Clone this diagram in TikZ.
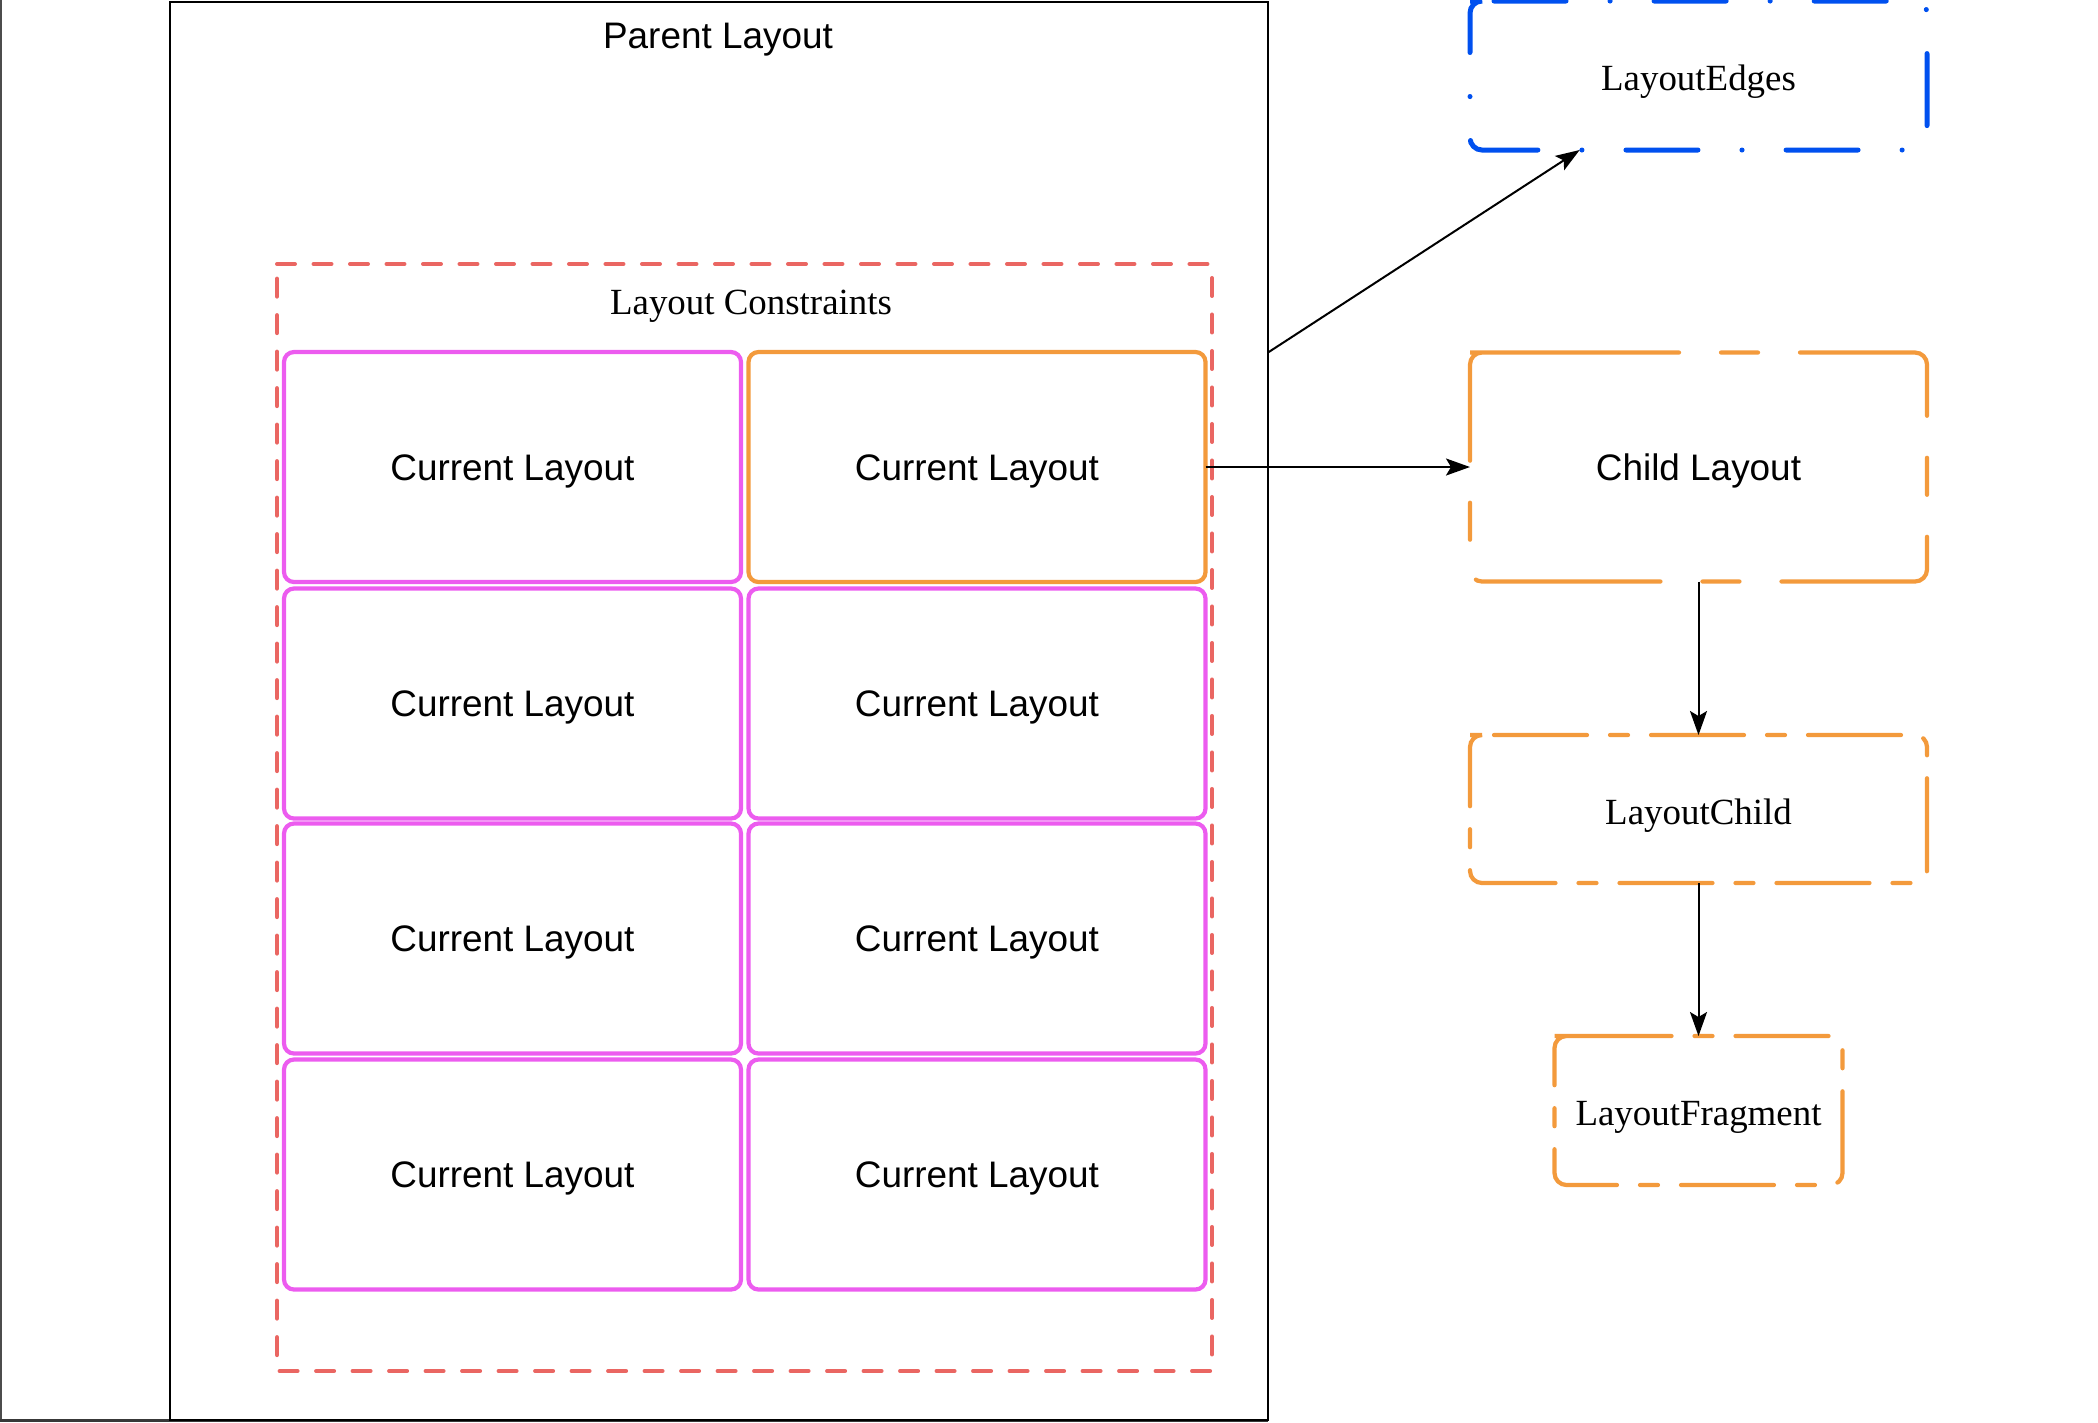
\documentclass[tikz,border=0pt]{standalone}
\usepackage{fontspec}
\setmainfont{Liberation Serif}
\newfontfamily\helv{Liberation Sans}
\usetikzlibrary{calc,arrows.meta}
\definecolor{lorange}{HTML}{F39A3C}
\definecolor{lpink}{HTML}{EC5CEF}
\definecolor{lred}{HTML}{EA6662}
\definecolor{lblue}{HTML}{0050EF}
\def\boxline[#1](#2)(#3){\draw[#1] ($(#2.north west)+(#3,0)$) -- (#2.north east) -- (#2.south east) -- (#2.south west) -- (#2.north west) -- cycle;}

\begin{document}
\begin{tikzpicture}[y=-1cm,
    every node/.style={font=\fontsize{10.5pt}{12pt}\selectfont, inner sep=0pt, outer sep=0pt},
    helvtext/.style={font=\helv\fontsize{10.5pt}{12pt}\selectfont},
    cell/.style={helvtext, rectangle, draw, rounded corners=0.1cm, line width=0.042cm, minimum width=4.57cm, minimum height=2.30cm, text height=0.75em, text depth=0pt},
    cellpink/.style={cell, draw=lpink},
    cellorange/.style={cell, draw=lorange},
    flowbox/.style={rectangle, minimum width=4.57cm, text height=0.88em, text depth=0pt},
    reddash/.style={lred, line width=0.04cm, line cap=round, dash pattern=on 0.18cm off 0.185cm},
    bluedash/.style={lblue, line width=0.05cm, line cap=round, rounded corners=0.12cm, dash pattern=on 0.72cm off 0.44cm on 0.001cm off 0.44cm},
    orangelong/.style={lorange, line width=0.042cm, line cap=round, rounded corners=0.12cm, dash pattern=on 1.85cm off 0.42cm on 0.37cm off 0.42cm},
    orangeshort/.style={lorange, line width=0.042cm, line cap=round, rounded corners=0.12cm, dash pattern=on 0.93cm off 0.23cm on 0.18cm off 0.23cm},
    conn/.style={-{Stealth[length=0.24cm,width=0.17cm,inset=0.05cm]}, line width=0.02cm}]
    \useasboundingbox (0,0) rectangle (20.98,14.22);
    
    % screen edges
    \fill[black!70] (0,0) rectangle (0.02,14.22);
    \fill[black!78] (0,14.19) rectangle (12.68,14.22);
    
    % parent layout
    \node[draw, line width=0.02cm, minimum width=10.98cm, minimum height=14.18cm] (parent) at (7.19,7.11) {};
    \node[helvtext] (ptitle) at (7.18,0.40) {Parent Layout};
    
    % constraints
    \node[minimum width=9.35cm, minimum height=11.07cm] (cons) at (7.445,8.175) {};
    \boxline[reddash](cons)(0)
    \node (ctitle) at (7.51,3.06) {Layout Constraints};
    
    \node[cellpink] (c11) at (5.125,4.67) {Current Layout};
    \node[cellorange] (c12) at (9.77,4.67) {Current Layout};
    \node[cellpink] (c21) at (5.125,7.035) {Current Layout};
    \node[cellpink] (c22) at (9.77,7.035) {Current Layout};
    \node[cellpink] (c31) at (5.125,9.385) {Current Layout};
    \node[cellpink] (c32) at (9.77,9.385) {Current Layout};
    \node[cellpink] (c41) at (5.125,11.745) {Current Layout};
    \node[cellpink] (c42) at (9.77,11.745) {Current Layout};
    
    % right column
    \node[flowbox, minimum height=1.49cm] (edges) at (16.985,0.755) {LayoutEdges};
    \node[flowbox, helvtext, minimum height=2.29cm, text height=0.75em] (child) at (16.985,4.67) {Child Layout};
    \node[flowbox, minimum height=1.48cm] (lchild) at (16.985,8.09) {LayoutChild};
    \node[flowbox, minimum width=2.88cm, minimum height=1.49cm] (frag) at (16.985,11.105) {LayoutFragment};
    \boxline[bluedash](edges)(0.12)
    \boxline[orangelong](child)(0.12)
    \boxline[orangeshort](lchild)(0.12)
    \boxline[orangeshort](frag)(0.12)
    
    % arrows
    \coordinate (edgesfoot) at ($(edges.south west)!0.24!(edges.south east)$);
    \draw[conn] (parent.east |- child.north) -- (edgesfoot);
    \draw[conn] (c12.east) -- (child.west);
    \draw[conn] (child.south) -- (lchild.north);
    \draw[conn] (lchild.south) -- (frag.north);
\end{tikzpicture}
\end{document}
